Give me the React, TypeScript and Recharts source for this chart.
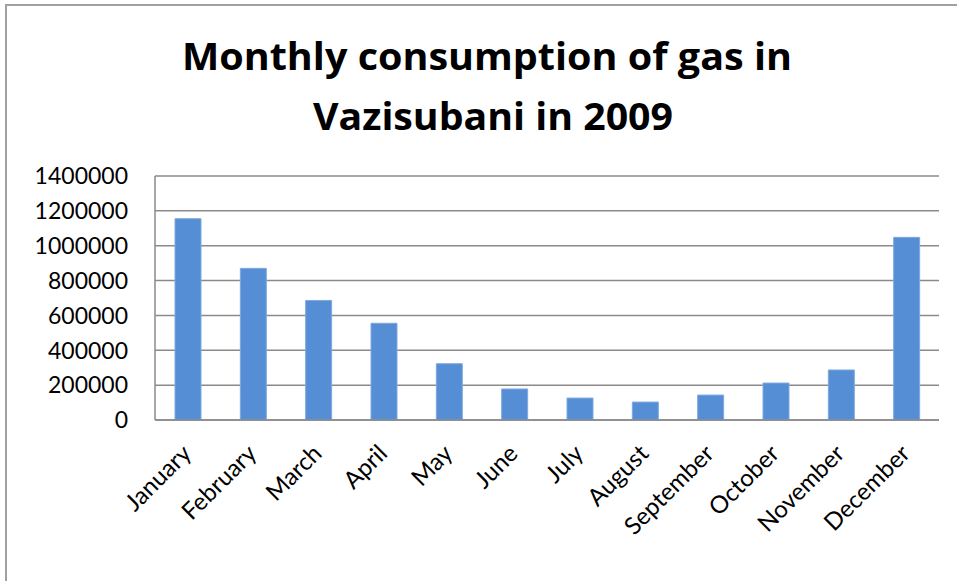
import React from "react";
import { BarChart, Bar, XAxis, YAxis, CartesianGrid } from "recharts";

const months = [
  "January", "February", "March", "April", "May", "June",
  "July", "August", "September", "October", "November", "December",
];
const consumption = [
  1155000, 870000, 686000, 555000, 323000, 178000,
  126000, 103000, 143000, 212000, 287000, 1048000,
];
const yTicks = [0, 200000, 400000, 600000, 800000, 1000000, 1200000, 1400000];
const titleLines = ["Monthly consumption of gas in", "Vazisubani in 2009"];

const data = months.map((m, i) => ({ month: m, value: consumption[i] }));

const FONT = "Lato, 'Open Sans', 'DejaVu Sans', sans-serif";
const TITLE_FONT = "'Open Sans', Lato, 'DejaVu Sans', sans-serif";

const XTick = (props: any) => {
  const { x, y, payload } = props;
  return (
    <g transform={`translate(${x + 5},${y + 33})`}>
      <text
        x={0}
        y={0}
        textAnchor="end"
        transform="rotate(-45)"
        fontFamily={FONT}
        fontSize={24}
        fill="#000"
      >
        {payload.value}
      </text>
    </g>
  );
};

const YTick = (props: any) => {
  const { y, payload } = props;
  return (
    <text
      x={128}
      y={y}
      dy="0.36em"
      textAnchor="end"
      fontFamily={FONT}
      fontSize={23}
      fill="#000"
    >
      {payload.value}
    </text>
  );
};

export default function App() {
  return (
    <div
      style={{
        position: "absolute",
        left: 0,
        top: 0,
        width: 957,
        height: 581,
        background: "#fff",
        overflow: "hidden",
      }}
    >
      <div
        style={{
          position: "absolute",
          left: 5,
          top: 4,
          width: 1000,
          height: 700,
          borderTop: "2px solid #a0a0a0",
          borderLeft: "2px solid #a0a0a0",
        }}
      />
      <svg
        width={957}
        height={150}
        style={{ position: "absolute", left: 0, top: 0, fontVariantLigatures: "none" }}
      >
        <text
          x={182}
          y={70}
          textLength={610}
          lengthAdjust="spacingAndGlyphs"
          fontFamily={TITLE_FONT}
          fontWeight="bold"
          fontSize={37}
          fill="#000"
        >
          {titleLines[0]}
        </text>
        <text
          x={313}
          y={130}
          textLength={360}
          lengthAdjust="spacingAndGlyphs"
          fontFamily={TITLE_FONT}
          fontWeight="bold"
          fontSize={37}
          fill="#000"
        >
          {titleLines[1]}
        </text>
      </svg>
      <div style={{ position: "absolute", left: 0, top: 0 }}>
        <BarChart
          width={957}
          height={581}
          data={data}
          margin={{ top: 176, right: 18, bottom: 0, left: 0 }}
          barSize={26}
        >
          <CartesianGrid
            vertical={false}
            stroke="#8a8a8a"
            strokeWidth={1.5}
          />
          <XAxis
            dataKey="month"
            height={161}
            interval={0}
            tickLine={false}
            tickSize={0}
            axisLine={{ stroke: "#8a8a8a", strokeWidth: 1.5 }}
            tick={<XTick />}
          />
          <YAxis
            width={155}
            domain={[0, 1400000]}
            ticks={yTicks}
            interval={0}
            tickLine={false}
            axisLine={{ stroke: "#8a8a8a", strokeWidth: 1.5 }}
            tick={<YTick />}
          />
          <Bar
            dataKey="value"
            fill="#558ED5"
            stroke="#7fa9e0"
            strokeWidth={1}
            isAnimationActive={false}
          />
        </BarChart>
      </div>
    </div>
  );
}
